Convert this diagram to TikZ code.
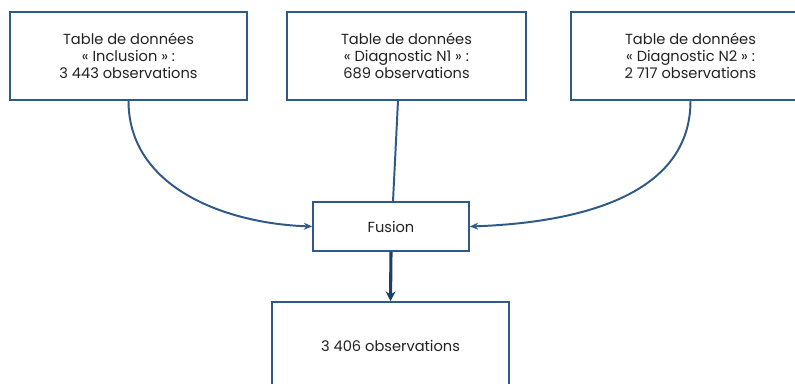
\documentclass[tikz,border=0pt]{standalone}
\usepackage{fontspec}
\setmainfont{Poppins}
\usepackage{tikz}
\usetikzlibrary{calc,arrows.meta}

\definecolor{boxblue}{HTML}{2F5A88}
\definecolor{darkblue}{HTML}{1F3D6B}
\definecolor{txtgray}{HTML}{222222}

\begin{document}
\begin{tikzpicture}[x=0.025cm,y=-0.025cm]
                      \tikzstyle{tablebox}=[rectangle,draw=boxblue,line width=1.1pt,fill=white,align=center,text=txtgray,font=\fontsize{10.4}{12.1}\selectfont,inner sep=0pt]
                      \tikzstyle{link}=[draw=boxblue,line width=1.4pt]
                      \useasboundingbox (0,0) rectangle (795,383);
                      \node[tablebox,minimum width=237*0.025cm,minimum height=88*0.025cm] (incl) at (128.5,56) {Table de données\\« Inclusion » :\\3 443 observations};
                      \node[tablebox,minimum width=239*0.025cm,minimum height=88*0.025cm] (diag1) at (406.5,56) {Table de données\\« Diagnostic N1 » :\\689 observations};
                      \node[tablebox,minimum width=239*0.025cm,minimum height=88*0.025cm] (diag2) at (690.5,56) {Table de données\\« Diagnostic N2 » :\\2 717 observations};
                      \node[tablebox,minimum width=156*0.025cm,minimum height=49*0.025cm] (fusion) at (391,226.5) {Fusion};
                      \node[tablebox,minimum width=237*0.025cm,minimum height=88*0.025cm] (result) at (390.5,346) {3 406 observations};
                      \draw[link,-{Stealth[length=6pt,width=5pt]}] (incl.south) to[out=-90,in=178] (fusion.west);
                      \draw[link,-{Stealth[length=6pt,width=5pt]}] (diag2.south) to[out=-90,in=2] (fusion.east);
                      \draw[link] ($(diag1.south)+(-8.5,0)$) -- ($(fusion.north)+(2,0)$);
                      \draw[draw=darkblue,line width=2.2pt,-{Stealth[length=7pt,width=7pt]}] (fusion.south) -- (result.north);
                  \end{tikzpicture}
\end{document}
